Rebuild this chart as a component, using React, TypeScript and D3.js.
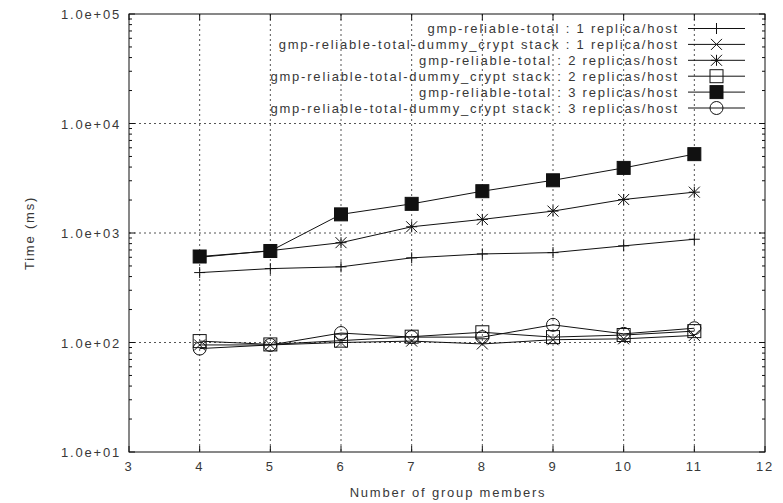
import React from "react";
import * as d3 from "d3";

// group sizes on the x axis
const members = [4, 5, 6, 7, 8, 9, 10, 11];

// times in ms
const total1 = [435, 473, 491, 593, 644, 662, 763, 877];
const dummy1 = [95, 95, 100, 103, 97, 106, 108, 116];
const total2 = [600, 690, 816, 1140, 1331, 1585, 2024, 2360];
const dummy2 = [103, 96, 104, 113, 124, 112, 117, 127];
const total3 = [610, 685, 1480, 1846, 2409, 3030, 3930, 5250];
const dummy3 = [88, 95, 122, 112, 112, 145, 120, 135];

const seriesNames = [
  "gmp-reliable-total : 1 replica/host",
  "gmp-reliable-total-dummy_crypt stack : 1 replica/host",
  "gmp-reliable-total : 2 replicas/host",
  "gmp-reliable-total-dummy_crypt stack : 2 replicas/host",
  "gmp-reliable-total : 3 replicas/host",
  "gmp-reliable-total-dummy_crypt stack : 3 replicas/host",
];
const seriesValues = [total1, dummy1, total2, dummy2, total3, dummy3];
const seriesMarkers = ["plus", "cross", "star", "square", "fsquare", "circle"];

const xTicks = [3, 4, 5, 6, 7, 8, 9, 10, 11, 12];
const yTicks = [1e1, 1e2, 1e3, 1e4, 1e5];
const yTickLabels = ["1.0e+01", "1.0e+02", "1.0e+03", "1.0e+04", "1.0e+05"];

const W = 783;
const H = 503;
const plot = { left: 129, right: 765, top: 14, bottom: 452 };
const ink = "#111";
const textColor = "#383838";
const font = "'Liberation Sans', Arial, sans-serif";
const fontSize = 13;
const spacing = 1.8;

const Marker = ({ type, x, y }: { type: string; x: number; y: number }) => {
  const h = 5.5;
  const s = 6.5;
  const st = { stroke: ink, strokeWidth: 1, fill: "none" };
  if (type === "plus")
    return <path d={`M${x - h},${y}H${x + h}M${x},${y - h}V${y + h}`} {...st} />;
  if (type === "cross")
    return <path d={`M${x - h},${y - h}L${x + h},${y + h}M${x - h},${y + h}L${x + h},${y - h}`} {...st} />;
  if (type === "star")
    return (
      <path
        d={`M${x - h},${y}H${x + h}M${x},${y - h}V${y + h}M${x - h},${y - h}L${x + h},${y + h}M${x - h},${y + h}L${x + h},${y - h}`}
        {...st}
      />
    );
  if (type === "square") return <rect x={x - s} y={y - s} width={2 * s} height={2 * s} {...st} />;
  if (type === "fsquare")
    return <rect x={x - s} y={y - s} width={2 * s} height={2 * s} fill={ink} stroke={ink} />;
  return <circle cx={x} cy={y} r={s} {...st} />;
};

const App = () => {
  const x = d3.scaleLinear().domain([3, 12]).range([plot.left, plot.right]);
  const y = d3.scaleLog().domain([1e1, 1e5]).range([plot.bottom, plot.top]);

  const line = d3
    .line<number>()
    .x((_, i) => x(members[i]))
    .y((d) => y(d));

  // minor ticks at 2..9 of each decade
  const minor: number[] = [];
  for (let e = 1; e < 5; e++) for (let m = 2; m <= 9; m++) minor.push(m * Math.pow(10, e));

  const legendY = (i: number) => 28.5 + i * 15.9;
  const legendRight = 679;
  const sampleX0 = 688;
  const sampleX1 = 745;

  const textProps = {
    fontFamily: font,
    fontSize,
    fill: textColor,
    letterSpacing: spacing,
  };

  return (
    <svg width={W} height={H} style={{ position: "absolute", left: 0, top: 0, background: "#fff" }}>
      <rect width={W} height={H} fill="#fff" />

      {/* grid */}
      {xTicks
        .filter((t) => t > 3 && t < 12)
        .map((t) => (
          <line
            key={`gx${t}`}
            x1={x(t)}
            x2={x(t)}
            y1={plot.top}
            y2={plot.bottom}
            stroke="#555"
            strokeWidth={1}
            strokeDasharray="2,3"
          />
        ))}
      {yTicks
        .filter((t) => t > 10 && t < 1e5)
        .map((t) => (
          <line
            key={`gy${t}`}
            x1={plot.left}
            x2={plot.right}
            y1={y(t)}
            y2={y(t)}
            stroke="#555"
            strokeWidth={1}
            strokeDasharray="2,3"
          />
        ))}

      {/* ticks, mirrored on all sides */}
      {xTicks.map((t) => (
        <g key={`tx${t}`} stroke={ink}>
          <line x1={x(t)} x2={x(t)} y1={plot.bottom} y2={plot.bottom - 6} />
          <line x1={x(t)} x2={x(t)} y1={plot.top} y2={plot.top + 6} />
        </g>
      ))}
      {yTicks.map((t) => (
        <g key={`ty${t}`} stroke={ink}>
          <line x1={plot.left} x2={plot.left + 6} y1={y(t)} y2={y(t)} />
          <line x1={plot.right} x2={plot.right - 6} y1={y(t)} y2={y(t)} />
        </g>
      ))}
      {minor.map((t) => (
        <g key={`my${t}`} stroke={ink}>
          <line x1={plot.left} x2={plot.left + 3} y1={y(t)} y2={y(t)} />
          <line x1={plot.right} x2={plot.right - 3} y1={y(t)} y2={y(t)} />
        </g>
      ))}

      {/* tick labels */}
      {xTicks.map((t) => (
        <text key={`lx${t}`} x={x(t)} y={plot.bottom + 19} textAnchor="middle" {...textProps}>
          {t}
        </text>
      ))}
      {yTicks.map((t, i) => (
        <text key={`ly${t}`} x={plot.left - 8} y={y(t) + 5} textAnchor="end" {...textProps}>
          {yTickLabels[i]}
        </text>
      ))}

      {/* axis titles */}
      <text x={448} y={497} textAnchor="middle" {...textProps}>
        Number of group members
      </text>
      <text
        transform={`translate(34,${(plot.top + plot.bottom) / 2}) rotate(-90)`}
        textAnchor="middle"
        {...textProps}
      >
        Time (ms)
      </text>

      {/* series */}
      {seriesValues.map((vals, si) => (
        <g key={`s${si}`}>
          <path d={line(vals) || ""} fill="none" stroke={ink} strokeWidth={1} />
          {vals.map((v, i) => (
            <Marker key={i} type={seriesMarkers[si]} x={x(members[i])} y={y(v)} />
          ))}
        </g>
      ))}

      {/* legend */}
      {seriesNames.map((name, i) => (
        <g key={`lg${i}`}>
          <text x={legendRight} y={legendY(i) + 4.5} textAnchor="end" {...textProps}>
            {name}
          </text>
          <line x1={sampleX0} x2={sampleX1} y1={legendY(i)} y2={legendY(i)} stroke={ink} />
          <Marker type={seriesMarkers[i]} x={(sampleX0 + sampleX1) / 2} y={legendY(i)} />
        </g>
      ))}

      {/* frame */}
      <rect
        x={plot.left}
        y={plot.top}
        width={plot.right - plot.left}
        height={plot.bottom - plot.top}
        fill="none"
        stroke={ink}
        strokeWidth={1}
      />
    </svg>
  );
};

export default App;
